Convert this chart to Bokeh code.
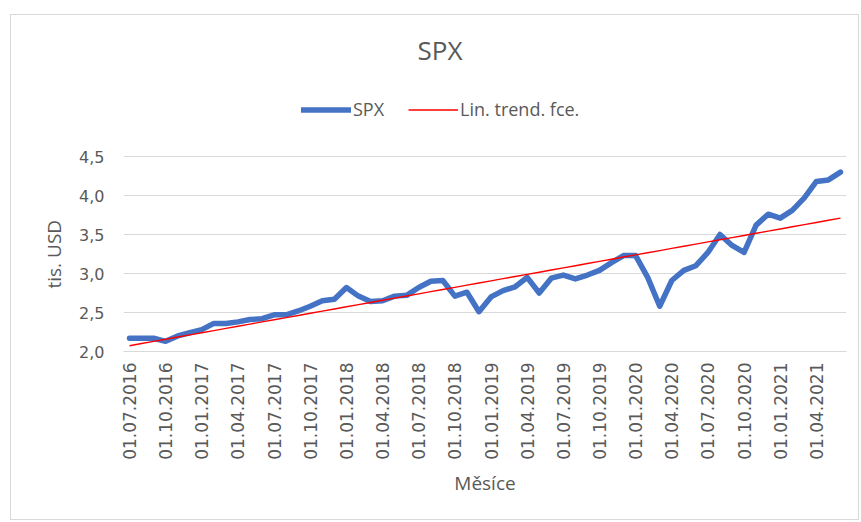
import numpy as np
from bokeh.plotting import figure
from bokeh.models import (Range1d, FixedTicker, CustomJSTickFormatter, Legend,
                          LegendItem, Title)
from bokeh.embed import file_html
from bokeh.resources import INLINE

# ---- data (thousands USD), monthly 07/2016 .. 06/2021 ----
tick_labels = ["01.07.2016", "01.10.2016", "01.01.2017", "01.04.2017",
               "01.07.2017", "01.10.2017", "01.01.2018", "01.04.2018",
               "01.07.2018", "01.10.2018", "01.01.2019", "01.04.2019",
               "01.07.2019", "01.10.2019", "01.01.2020", "01.04.2020",
               "01.07.2020", "01.10.2020", "01.01.2021", "01.04.2021"]

spx = [2.17, 2.17, 2.17, 2.13, 2.20, 2.24, 2.28, 2.36, 2.36, 2.38,
       2.41, 2.42, 2.47, 2.47, 2.52, 2.58, 2.65, 2.67, 2.82, 2.71,
       2.64, 2.65, 2.71, 2.72, 2.82, 2.90, 2.91, 2.71, 2.76, 2.51,
       2.70, 2.78, 2.83, 2.95, 2.75, 2.94, 2.98, 2.93, 2.98, 3.04,
       3.14, 3.23, 3.23, 2.95, 2.58, 2.91, 3.04, 3.10, 3.27, 3.50,
       3.36, 3.27, 3.62, 3.76, 3.71, 3.81, 3.97, 4.18, 4.20, 4.30]

y_ticks = [2.0, 2.5, 3.0, 3.5, 4.0, 4.5]

month_index = list(range(len(spx)))
tick_positions = [3 * k for k in range(len(tick_labels))]

# linear trend (least squares)
slope, intercept = np.polyfit(month_index, spx, 1)
trend = [intercept + slope * i for i in month_index]

TEXT = "#595959"
GRID = "#D9D9D9"
BLUE = "#4472C4"
RED = "#FF0000"

# layout (inside the bordered chart box): frame spans y 65..336 px,
# 78 px per 1.0 -> empty headroom above 4.5 holds the legend
W, H = 849, 506
FRAME_TOP, FRAME_BOTTOM, PX_PER_UNIT = 65, 336, 78
y_max = 2.0 + (FRAME_BOTTOM - FRAME_TOP) / PX_PER_UNIT

p = figure(width=W, height=H, output_backend="svg", toolbar_location=None,
           x_range=Range1d(-0.5, len(spx) - 0.5), y_range=Range1d(2.0, y_max),
           min_border_left=112, min_border_right=14,
           min_border_top=FRAME_TOP, min_border_bottom=H - FRAME_BOTTOM)
p.styles = {"margin-left": "10px", "margin-top": "14px",
            "border": "1px solid #D9D9D9"}
p.outline_line_color = None
p.background_fill_color = "white"
p.border_fill_color = "white"

r1 = p.line(month_index, spx, line_color=BLUE, line_width=5.5,
            line_join="round", line_cap="round")
r2 = p.line(month_index, trend, line_color=RED, line_width=1.4,
            line_alpha=1.0)

# title
p.title.text = "SPX"
p.title.align = "left"
p.title.offset = 294
p.title.text_font = "Open Sans"
p.title.text_font_size = "26px"
p.title.text_font_style = "normal"
p.title.text_color = TEXT
p.title.standoff = 26

legend = Legend(items=[LegendItem(label="SPX", renderers=[r1]),
                       LegendItem(label="Lin. trend. fce.", renderers=[r2])],
                orientation="horizontal", location=(178, 230),
                padding=0, margin=0, spacing=24, glyph_width=50,
                glyph_height=21, label_height=21,
                label_standoff=2, border_line_color=None,
                background_fill_alpha=0, label_text_font="Open Sans",
                label_text_font_size="18px", label_text_color=TEXT)
p.add_layout(legend)

# x axis
xa = p.xaxis[0]
xa.ticker = FixedTicker(ticks=tick_positions)
xa.major_label_overrides = {pos: lab for pos, lab in zip(tick_positions, tick_labels)}
xa.major_label_orientation = np.pi / 2
xa.major_label_text_font = "DejaVu Sans"
xa.major_label_text_font_size = "17px"
xa.major_label_text_color = TEXT
xa.major_label_standoff = 5
xa.major_tick_line_color = None
xa.minor_tick_line_color = None
xa.axis_line_color = GRID
xa.axis_label = "Měsíce"
xa.axis_label_text_font = "Open Sans"
xa.axis_label_text_font_size = "19px"
xa.axis_label_text_font_style = "normal"
xa.axis_label_text_color = TEXT
xa.axis_label_standoff = 7

# y axis
ya = p.yaxis[0]
ya.ticker = FixedTicker(ticks=y_ticks)
ya.formatter = CustomJSTickFormatter(code="return tick.toFixed(1).replace('.', ',');")
ya.major_label_text_font = "DejaVu Sans"
ya.major_label_text_font_size = "16px"
ya.major_label_text_color = TEXT
ya.major_label_standoff = 13
ya.major_tick_line_color = None
ya.minor_tick_line_color = None
ya.axis_line_color = None

# y axis title, centred on the 2.0..4.5 value band
ytitle = Title(text="tis. USD", align="left", offset=63, standoff=20,
               text_font="Open Sans", text_font_size="19px",
               text_font_style="normal", text_color=TEXT)
p.add_layout(ytitle, "left")

p.xgrid.visible = False
p.ygrid.ticker = FixedTicker(ticks=y_ticks)
p.ygrid.grid_line_color = GRID
p.ygrid.grid_line_width = 1

open("out.html", "w").write(file_html(p, INLINE))
